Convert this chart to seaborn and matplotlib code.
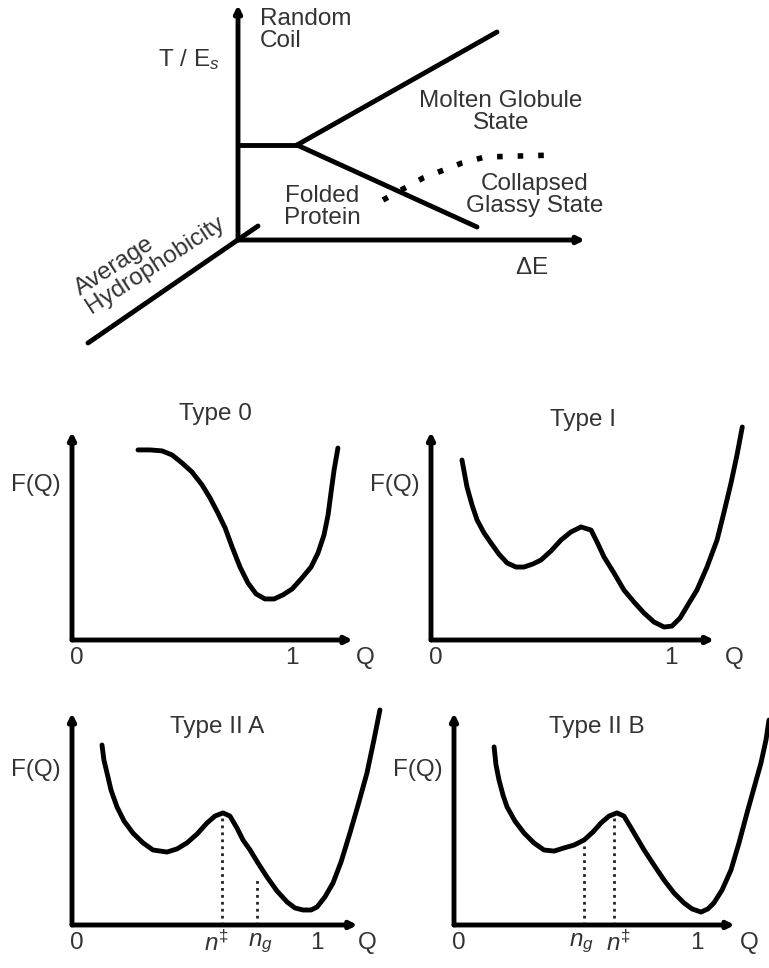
import numpy as np
import seaborn as sns
import matplotlib.pyplot as plt

sns.set_theme(style='white')
plt.rcParams['font.family'] = ['Liberation Sans', 'DejaVu Sans']
plt.rcParams['mathtext.fontset'] = 'custom'
plt.rcParams['mathtext.rm'] = 'Liberation Sans'
plt.rcParams['mathtext.it'] = 'Liberation Sans:italic'

# ---- phase diagram (dE, T/Es units) ----
branch_x = [0.0, 0.59]
branch_y = [0.95, 0.95]
molten_x = [0.59, 2.59]
molten_y = [0.95, 2.08]
folded_x = [0.59, 2.39]
folded_y = [0.95, 0.13]
glass_x = [1.45, 1.85, 2.24, 2.47, 3.17]
glass_y = [0.40, 0.62, 0.77, 0.83, 0.85]
hydro_x = [-1.50, 0.20]
hydro_y = [-1.03, 0.14]

# ---- free energy profiles F(Q) ----
q_type0 = [0.275, 0.325, 0.375, 0.417, 0.458, 0.5, 0.542, 0.575, 0.608, 0.638, 0.667, 0.7, 0.733,
           0.767, 0.804, 0.842, 0.879, 0.917, 0.958, 0.996, 1.025, 1.05, 1.067, 1.079, 1.092, 1.108]
f_type0 = [0.792, 0.792, 0.788, 0.771, 0.738, 0.7, 0.646, 0.592, 0.529, 0.467, 0.388, 0.304, 0.238,
           0.192, 0.171, 0.171, 0.188, 0.2125, 0.258, 0.304, 0.3625, 0.4375, 0.521, 0.6125, 0.708, 0.8]

q_type1 = [0.129, 0.15, 0.171, 0.192, 0.221, 0.25, 0.283, 0.317, 0.354, 0.3875, 0.425, 0.458, 0.5,
           0.542, 0.583, 0.625, 0.667, 0.692, 0.721, 0.7625, 0.804, 0.846, 0.8875, 0.929, 0.971,
           1.004, 1.038, 1.075, 1.108, 1.15, 1.192, 1.221, 1.25, 1.275, 1.297]
f_type1 = [0.75, 0.6375, 0.5625, 0.5, 0.446, 0.404, 0.358, 0.321, 0.304, 0.304, 0.317, 0.333, 0.371,
           0.417, 0.45, 0.471, 0.458, 0.408, 0.346, 0.279, 0.208, 0.158, 0.1125, 0.075, 0.054,
           0.058, 0.092, 0.154, 0.208, 0.304, 0.417, 0.533, 0.654, 0.771, 0.8875]

q_type2a = [0.125, 0.133, 0.146, 0.1625, 0.1875, 0.217, 0.254, 0.296, 0.3375, 0.396, 0.4375, 0.479,
            0.521, 0.5625, 0.596, 0.629, 0.658, 0.6875, 0.7125, 0.742, 0.775, 0.8125, 0.854, 0.896,
            0.929, 0.9625, 0.996, 1.021, 1.054, 1.0875, 1.121, 1.158, 1.192, 1.229, 1.258, 1.283]
f_type2a = [0.75, 0.6875, 0.633, 0.5625, 0.492, 0.433, 0.383, 0.342, 0.3125, 0.304, 0.317, 0.342,
            0.379, 0.425, 0.454, 0.467, 0.454, 0.404, 0.354, 0.3125, 0.258, 0.2, 0.142, 0.096,
            0.071, 0.0625, 0.0625, 0.075, 0.117, 0.175, 0.2625, 0.383, 0.5, 0.633, 0.771, 0.896]

q_type2b = [0.167, 0.175, 0.1875, 0.204, 0.221, 0.254, 0.292, 0.333, 0.375, 0.417, 0.458, 0.5, 0.542,
            0.579, 0.6125, 0.646, 0.679, 0.708, 0.733, 0.7625, 0.792, 0.833, 0.875, 0.917, 0.958,
            0.992, 1.029, 1.058, 1.083, 1.117, 1.154, 1.1875, 1.221, 1.25, 1.279, 1.3, 1.3125]
f_type2b = [0.742, 0.667, 0.604, 0.542, 0.492, 0.433, 0.383, 0.342, 0.3125, 0.308, 0.321, 0.333,
            0.354, 0.3875, 0.425, 0.454, 0.467, 0.454, 0.4125, 0.3625, 0.3125, 0.25, 0.1875, 0.133,
            0.092, 0.067, 0.054, 0.067, 0.092, 0.146, 0.229, 0.342, 0.467, 0.571, 0.675, 0.771, 0.854]

panel_titles = ['Type 0', 'Type I', 'Type II A', 'Type II B']
panel_q = [q_type0, q_type1, q_type2a, q_type2b]
panel_f = [f_type0, f_type1, f_type2a, f_type2b]
one_pos = [0.917, 1.0, 1.02, 1.0125]
# dotted markers: (label, Q position, height on curve)
markers = [[], [],
           [(r'$n^{\ddagger}$', 0.625, 0.46), (r'$n_g$', 0.771, 0.2)],
           [(r'$n_g$', 0.542, 0.33), (r'$n^{\ddagger}$', 0.667, 0.455)]]
label_q = [[], [], [0.6, 0.785], [0.53, 0.685]]

W, H = 769, 968
fig = plt.figure(figsize=(W / 100, H / 100), dpi=100)
fig.patch.set_facecolor('white')

ink = 'black'
txt = '#333333'
fs = 17.5
ls = 0.95


def arrow(ax, x0, y0, x1, y1, lw=3.5):
    ax.annotate('', xy=(x1, y1), xytext=(x0, y0),
                arrowprops=dict(arrowstyle='-|>', lw=lw, color=ink,
                                mutation_scale=10, shrinkA=0, shrinkB=0))


# top diagram, origin at pixel (238, 240), 100 px per unit
ax = fig.add_axes([0, 1 - 360 / H, 1, 360 / H])
ax.set_xlim(-2.38, 5.31)
ax.set_ylim(-1.2, 2.4)
ax.axis('off')

arrow(ax, 0, 0, 0, 2.35)
arrow(ax, 0, 0, 3.47, 0)
for xs, ys in [(branch_x, branch_y), (molten_x, molten_y), (folded_x, folded_y), (hydro_x, hydro_y)]:
    sns.lineplot(x=xs, y=ys, ax=ax, color=ink, lw=3.5, sort=False, estimator=None)
ax.plot(glass_x, glass_y, color=ink, lw=4, linestyle=(0, (1, 2.7)), solid_capstyle='butt')

ax.text(0.22, 2.1, 'Random\nCoil', ha='left', va='center', fontsize=fs, color=txt, linespacing=ls)
ax.text(-0.49, 1.8, r'T / E$_s$', ha='center', va='center', fontsize=fs, color=txt)
ax.text(2.63, 1.28, 'Molten Globule\nState', ha='center', va='center', fontsize=fs, color=txt, linespacing=ls)
ax.text(0.84, 0.33, 'Folded\nProtein', ha='center', va='center', fontsize=fs, color=txt, linespacing=ls)
ax.text(2.97, 0.45, 'Collapsed\nGlassy State', ha='center', va='center', fontsize=fs, color=txt, linespacing=ls)
ax.text(2.94, -0.28, r'$\Delta$E', ha='center', va='center', fontsize=fs, color=txt)
ax.text(-1.44, -0.78, 'Average\nHydrophobicity', ha='left', va='bottom', rotation=33,
        rotation_mode='anchor', multialignment='left', fontsize=fs, color=txt, linespacing=ls)

# four free energy panels, 240 px per unit
origins = [(72, 640), (431, 640), (72, 925), (454, 925)]
v_len = [0.867, 0.867, 0.883, 0.883]
h_len = [1.17, 1.18, 1.19, 1.17]
q_lab = [1.22, 1.2625, 1.229, 1.229]
title_pos = [(0.596, 0.94), (0.633, 0.917), (0.604, 0.825), (0.596, 0.825)]

for i in range(4):
    ox, oy = origins[i]
    left = (ox - 0.3 * 240) / W
    bottom = 1 - (oy + 0.15 * 240) / H
    pax = fig.add_axes([left, bottom, 1.65 * 240 / W, 1.15 * 240 / H])
    pax.set_xlim(-0.3, 1.35)
    pax.set_ylim(-0.15, 1.0)
    pax.axis('off')
    pax.patch.set_alpha(0)

    for (lab, qm, fm) in markers[i]:
        pax.plot([qm, qm], [0, fm], color='#222222', lw=2, linestyle=(0, (1, 1.5)))
    arrow(pax, 0, 0, 0, v_len[i])
    arrow(pax, 0, 0, h_len[i], 0)
    sns.lineplot(x=panel_q[i], y=panel_f[i], ax=pax, color=ink, lw=3.5, sort=False, estimator=None)

    pax.text(title_pos[i][0], title_pos[i][1], panel_titles[i], ha='center', va='center',
             fontsize=fs, color=txt)
    pax.text(-0.15, 0.645, 'F(Q)', ha='center', va='center', fontsize=fs, color=txt)
    yl = -0.075
    pax.text(0.02, yl, '0', ha='center', va='center', fontsize=fs, color=txt)
    pax.text(one_pos[i], yl, '1', ha='center', va='center', fontsize=fs, color=txt)
    pax.text(q_lab[i], yl, 'Q', ha='center', va='center', fontsize=fs, color=txt)
    for (lab, qm, fm), ql in zip(markers[i], label_q[i]):
        pax.text(ql, yl, lab, ha='center', va='center', fontsize=fs, color=txt)

fig.savefig('out.png', dpi=100, facecolor='white')
